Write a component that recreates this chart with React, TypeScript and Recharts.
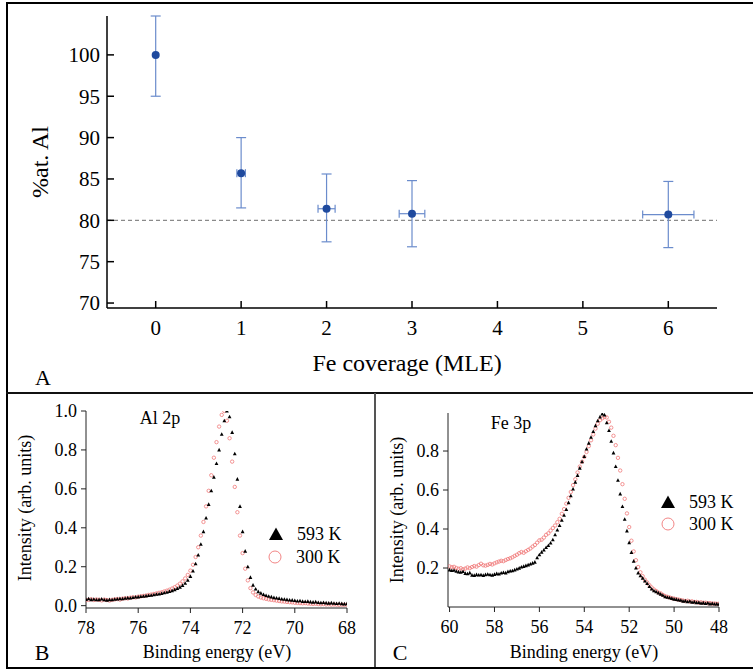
import React from 'react';
import { ScatterChart, Scatter, XAxis, YAxis, ErrorBar, ReferenceLine } from 'recharts';

const serif = "'Liberation Serif', 'Times New Roman', serif";

// panel A: Al content vs Fe coverage
const coverage = [0, 1, 2, 3, 6];
const alPercent = [100, 85.7, 81.4, 80.8, 80.7];
const errDown = [5, 4.2, 4.0, 4.0, 4.0];
const errUp = [4.7, 4.3, 4.2, 4.0, 4.0];
const coverageErr = [0, 0.05, 0.1, 0.15, 0.3];
const coverageTicks = [0, 1, 2, 3, 4, 5, 6];
const percentTicks = [70, 75, 80, 85, 90, 95, 100];

// panel B: Al 2p, 78 -> 68 eV, 0.1 eV steps
const alStart = 78;
const al593 = [
  0.032, 0.035, 0.031, 0.033, 0.030, 0.031, 0.034, 0.030, 0.028, 0.031,
  0.030, 0.033, 0.034, 0.036, 0.035, 0.038, 0.040, 0.039, 0.042, 0.044,
  0.045, 0.047, 0.048, 0.050, 0.052, 0.053, 0.056, 0.058, 0.060, 0.063,
  0.066, 0.069, 0.073, 0.077, 0.082, 0.088, 0.095, 0.104, 0.115, 0.130,
  0.150, 0.178, 0.215, 0.26, 0.315, 0.38, 0.45, 0.52, 0.59, 0.66,
  0.73, 0.80, 0.88, 0.95, 1.0, 0.97, 0.89, 0.78, 0.65, 0.51,
  0.38, 0.28, 0.20, 0.145, 0.105, 0.085, 0.072, 0.064, 0.057, 0.052,
  0.048, 0.045, 0.041, 0.039, 0.037, 0.034, 0.033, 0.031, 0.029, 0.028,
  0.026, 0.024, 0.025, 0.022, 0.021, 0.022, 0.019, 0.018, 0.019, 0.016,
  0.015, 0.016, 0.014, 0.013, 0.014, 0.012, 0.011, 0.012, 0.010, 0.009,
  0.010,
];
const al300 = [
  0.028, 0.030, 0.033, 0.029, 0.032, 0.030, 0.027, 0.031, 0.029, 0.026,
  0.030, 0.032, 0.034, 0.031, 0.036, 0.038, 0.037, 0.041, 0.043, 0.042,
  0.046, 0.048, 0.050, 0.052, 0.055, 0.057, 0.060, 0.063, 0.066, 0.069,
  0.073, 0.077, 0.082, 0.088, 0.095, 0.103, 0.113, 0.125, 0.140, 0.158,
  0.180, 0.21, 0.25, 0.30, 0.36, 0.43, 0.51, 0.59, 0.67, 0.76,
  0.84, 0.92, 0.98, 1.0, 0.95, 0.86, 0.74, 0.61, 0.48, 0.36,
  0.27, 0.19, 0.13, 0.09, 0.068, 0.055, 0.047, 0.042, 0.038, 0.035,
  0.032, 0.030, 0.028, 0.026, 0.024, 0.022, 0.021, 0.019, 0.018, 0.017,
  0.015, 0.014, 0.013, 0.012, 0.013, 0.011, 0.010, 0.009, 0.010, 0.008,
  0.007, 0.008, 0.006, 0.007, 0.005, 0.006, 0.005, 0.004, 0.005, 0.004,
  0.005,
];
const alTicksX = [78, 76, 74, 72, 70, 68];
const alTicksY = [0, 0.2, 0.4, 0.6, 0.8, 1.0];

// panel C: Fe 3p, 60 -> 48 eV, 0.1 eV steps
const feStart = 60;
const fe593 = [
  0.190, 0.187, 0.188, 0.183, 0.180, 0.178, 0.182, 0.172, 0.170, 0.175,
  0.163, 0.162, 0.166, 0.164, 0.165, 0.162, 0.166, 0.168, 0.165, 0.163,
  0.167, 0.171, 0.169, 0.174, 0.177, 0.175, 0.181, 0.184, 0.186, 0.190,
  0.195, 0.199, 0.205, 0.208, 0.212, 0.216, 0.220, 0.225, 0.230, 0.252,
  0.268, 0.281, 0.292, 0.305, 0.315, 0.328, 0.345, 0.370, 0.395, 0.418,
  0.445, 0.470, 0.500, 0.535, 0.570, 0.605, 0.640, 0.675, 0.712, 0.745,
  0.772, 0.810, 0.840, 0.870, 0.900, 0.930, 0.955, 0.975, 0.990, 0.985,
  0.945, 0.905, 0.850, 0.790, 0.720, 0.650, 0.580, 0.515, 0.450, 0.390,
  0.330, 0.280, 0.235, 0.200, 0.175, 0.160, 0.148, 0.133, 0.120, 0.105,
  0.092, 0.083, 0.078, 0.072, 0.066, 0.060, 0.052, 0.050, 0.047, 0.044,
  0.040, 0.039, 0.036, 0.034, 0.030, 0.031, 0.027, 0.029, 0.024, 0.026,
  0.022, 0.023, 0.019, 0.021, 0.018, 0.020, 0.016, 0.018, 0.015, 0.016,
  0.014,
];
const fe300 = [
  0.208, 0.204, 0.206, 0.200, 0.196, 0.199, 0.193, 0.197, 0.203, 0.199,
  0.205, 0.210, 0.207, 0.215, 0.222, 0.214, 0.212, 0.216, 0.221, 0.218,
  0.224, 0.229, 0.233, 0.237, 0.235, 0.241, 0.246, 0.250, 0.255, 0.262,
  0.268, 0.276, 0.282, 0.278, 0.286, 0.293, 0.300, 0.310, 0.318, 0.330,
  0.342, 0.345, 0.356, 0.370, 0.378, 0.392, 0.405, 0.418, 0.435, 0.452,
  0.478, 0.502, 0.530, 0.560, 0.590, 0.625, 0.655, 0.690, 0.720, 0.745,
  0.770, 0.795, 0.825, 0.855, 0.885, 0.915, 0.940, 0.958, 0.968, 0.975,
  0.972, 0.950, 0.920, 0.878, 0.830, 0.765, 0.700, 0.630, 0.555, 0.480,
  0.410, 0.340, 0.285, 0.240, 0.205, 0.178, 0.158, 0.140, 0.126, 0.112,
  0.100, 0.090, 0.082, 0.074, 0.070, 0.062, 0.056, 0.052, 0.049, 0.045,
  0.043, 0.040, 0.038, 0.035, 0.033, 0.030, 0.032, 0.027, 0.029, 0.025,
  0.026, 0.022, 0.024, 0.021, 0.022, 0.019, 0.020, 0.017, 0.018, 0.016,
  0.017,
];
const feTicksX = [60, 58, 56, 54, 52, 50, 48];
const feTicksY = [0.2, 0.4, 0.6, 0.8];

const stepEv = 0.1;
const toSpectrum = (start: number, vals: number[]) =>
  vals.map((v, i) => ({ e: Math.round((start - i * stepEv) * 10) / 10, v }));

const pointsA = coverage.map((x, i) => ({
  x,
  y: alPercent[i],
  ey: [errDown[i], errUp[i]],
  ex: coverageErr[i],
}));

const BLUE = '#1f4a9e';
const ERR = '#6b8ccc';
const PINK = '#f07878';

const Dot = (p: any) => <circle cx={p.cx} cy={p.cy} r={4} fill={BLUE} />;
const Tri = (p: any) => (
  <path d={`M${p.cx},${p.cy - 2.1}L${p.cx + 1.9},${p.cy + 1.5}L${p.cx - 1.9},${p.cy + 1.5}Z`} fill="#000" />
);
const Ring = (p: any) => (
  <circle cx={p.cx} cy={p.cy} r={1.7} fill="none" stroke={PINK} strokeWidth={0.8} />
);

const Txt = ({ x, y, size, rotate, children }: any) => (
  <div
    style={{
      position: 'absolute',
      left: x,
      top: y,
      transform: `translate(-50%, -50%)${rotate ? ' rotate(-90deg)' : ''}`,
      fontSize: size,
      lineHeight: 1,
      whiteSpace: 'nowrap',
      color: '#000',
      fontFamily: serif,
    }}
  >
    {children}
  </div>
);

const LegendRow = ({ x, y, kind, label }: any) => (
  <div style={{ position: 'absolute', left: x - 8, top: y - 9, height: 18, display: 'flex', alignItems: 'center' }}>
    <svg width={16} height={16}>
      {kind === 'tri' ? (
        <path d="M8,1.5L15,14L1,14Z" fill="#000" />
      ) : (
        <circle cx={8} cy={8} r={6} fill="none" stroke={PINK} strokeWidth={0.9} />
      )}
    </svg>
    <span style={{ marginLeft: 13, fontSize: 18, lineHeight: 1, fontFamily: serif }}>{label}</span>
  </div>
);

const tickA = { fill: '#000', fontSize: 21, fontFamily: serif };
const tickBC = { fill: '#000', fontSize: 18, fontFamily: serif };
const frame = { stroke: '#000', strokeWidth: 1.5 };
const thin = { stroke: '#222', strokeWidth: 1 };

const PanelA = () => (
  <ScatterChart width={753} height={392} margin={{ top: 16, right: 36, bottom: 44, left: 47 }}>
    <XAxis
      type="number"
      dataKey="x"
      domain={[-0.57, 6.57]}
      ticks={coverageTicks}
      allowDataOverflow
      height={40}
      tickSize={-7}
      tickMargin={19}
      tick={tickA}
      axisLine={frame}
      tickLine={frame}
    />
    <XAxis
      xAxisId="top"
      orientation="top"
      type="number"
      domain={[-0.57, 6.57]}
      ticks={coverageTicks}
      allowDataOverflow
      height={0}
      tickSize={-7}
      tick={false}
      axisLine={frame}
      tickLine={frame}
    />
    <YAxis
      type="number"
      dataKey="y"
      domain={[69.4, 104.7]}
      ticks={percentTicks}
      allowDataOverflow
      width={60}
      tickSize={-7}
      tickMargin={14}
      tick={tickA}
      axisLine={frame}
      tickLine={frame}
    />
    <YAxis
      yAxisId="right"
      orientation="right"
      type="number"
      domain={[69.4, 104.7]}
      ticks={percentTicks}
      allowDataOverflow
      width={0}
      tickSize={-7}
      tick={false}
      axisLine={frame}
      tickLine={frame}
    />
    <ReferenceLine y={80} stroke="#8a8a8a" strokeDasharray="4 3" strokeWidth={1.3} />
    <Scatter data={pointsA} shape={Dot} isAnimationActive={false}>
      <ErrorBar dataKey="ey" direction="y" width={5} stroke={ERR} strokeWidth={1.2} />
      <ErrorBar dataKey="ex" direction="x" width={4} stroke={ERR} strokeWidth={1.2} />
    </Scatter>
  </ScatterChart>
);

const PanelB = () => (
  <ScatterChart width={374} height={276} margin={{ top: 18, right: 27, bottom: 31, left: 26 }}>
    <XAxis
      type="number"
      dataKey="e"
      domain={[68, 78]}
      reversed
      ticks={alTicksX}
      allowDataOverflow
      height={30}
      tickSize={5}
      tickMargin={8}
      tick={tickBC}
      axisLine={thin}
      tickLine={thin}
    />
    <YAxis
      type="number"
      dataKey="v"
      domain={[-0.012, 1.0]}
      ticks={alTicksY}
      tickFormatter={(v: number) => v.toFixed(1)}
      allowDataOverflow
      width={60}
      tickSize={5}
      tickMargin={4}
      tick={tickBC}
      axisLine={thin}
      tickLine={thin}
    />
    <Scatter data={toSpectrum(alStart, al300)} shape={Ring} isAnimationActive={false} />
    <Scatter data={toSpectrum(alStart, al593)} shape={Tri} isAnimationActive={false} />
  </ScatterChart>
);

const PanelC = () => (
  <ScatterChart width={378} height={276} margin={{ top: 20, right: 34, bottom: 32, left: 13 }}>
    <XAxis
      type="number"
      dataKey="e"
      domain={[48, 60.07]}
      reversed
      ticks={feTicksX}
      allowDataOverflow
      height={30}
      tickSize={5}
      tickMargin={8}
      tick={tickBC}
      axisLine={thin}
      tickLine={thin}
    />
    <YAxis
      type="number"
      dataKey="v"
      domain={[0, 0.995]}
      ticks={feTicksY}
      tickFormatter={(v: number) => v.toFixed(1)}
      allowDataOverflow
      width={60}
      tickSize={5}
      tickMargin={4}
      tick={tickBC}
      axisLine={thin}
      tickLine={thin}
    />
    <Scatter data={toSpectrum(feStart, fe300)} shape={Ring} isAnimationActive={false} />
    <Scatter data={toSpectrum(feStart, fe593)} shape={Tri} isAnimationActive={false} />
  </ScatterChart>
);

export default function App() {
  return (
    <div
      style={{
        position: 'absolute',
        left: 0,
        top: 0,
        width: 753,
        height: 669,
        background: '#fff',
        fontFamily: serif,
        overflow: 'hidden',
      }}
    >
      {/* figure frame */}
      <div style={{ position: 'absolute', left: 6, top: 2, width: 747, height: 1.5, background: '#000' }} />
      <div style={{ position: 'absolute', left: 5.5, top: 2, width: 2, height: 666, background: '#000' }} />
      <div style={{ position: 'absolute', left: 6, top: 667, width: 747, height: 1.5, background: '#000' }} />
      <div style={{ position: 'absolute', left: 6, top: 391.8, width: 747, height: 2, background: '#111' }} />
      <div style={{ position: 'absolute', left: 374, top: 393, width: 2, height: 274, background: '#555' }} />

      <div style={{ position: 'absolute', left: 0, top: 0 }}>
        <PanelA />
      </div>
      <div style={{ position: 'absolute', left: 0, top: 393 }}>
        <PanelB />
      </div>
      <div style={{ position: 'absolute', left: 375, top: 393 }}>
        <PanelC />
      </div>

      <Txt x={40} y={162} size={24} rotate>%at. Al</Txt>
      <Txt x={407} y={363} size={24}>Fe coverage (MLE)</Txt>
      <Txt x={43} y={378} size={22}>A</Txt>

      <Txt x={25} y={508} size={18} rotate>Intensity (arb. units)</Txt>
      <Txt x={217} y={652} size={18}>Binding energy (eV)</Txt>
      <Txt x={42} y={653} size={22}>B</Txt>
      <Txt x={160} y={418} size={18}>Al 2p</Txt>
      <LegendRow x={276} y={534} kind="tri" label="593 K" />
      <LegendRow x={275} y={556.5} kind="ring" label="300 K" />

      <Txt x={397} y={510} size={18} rotate>Intensity (arb. units)</Txt>
      <Txt x={584} y={652} size={18}>Binding energy (eV)</Txt>
      <Txt x={400} y={653} size={22}>C</Txt>
      <Txt x={511} y={423} size={18}>Fe 3p</Txt>
      <LegendRow x={668} y={502} kind="tri" label="593 K" />
      <LegendRow x={668} y={524} kind="ring" label="300 K" />
    </div>
  );
}
